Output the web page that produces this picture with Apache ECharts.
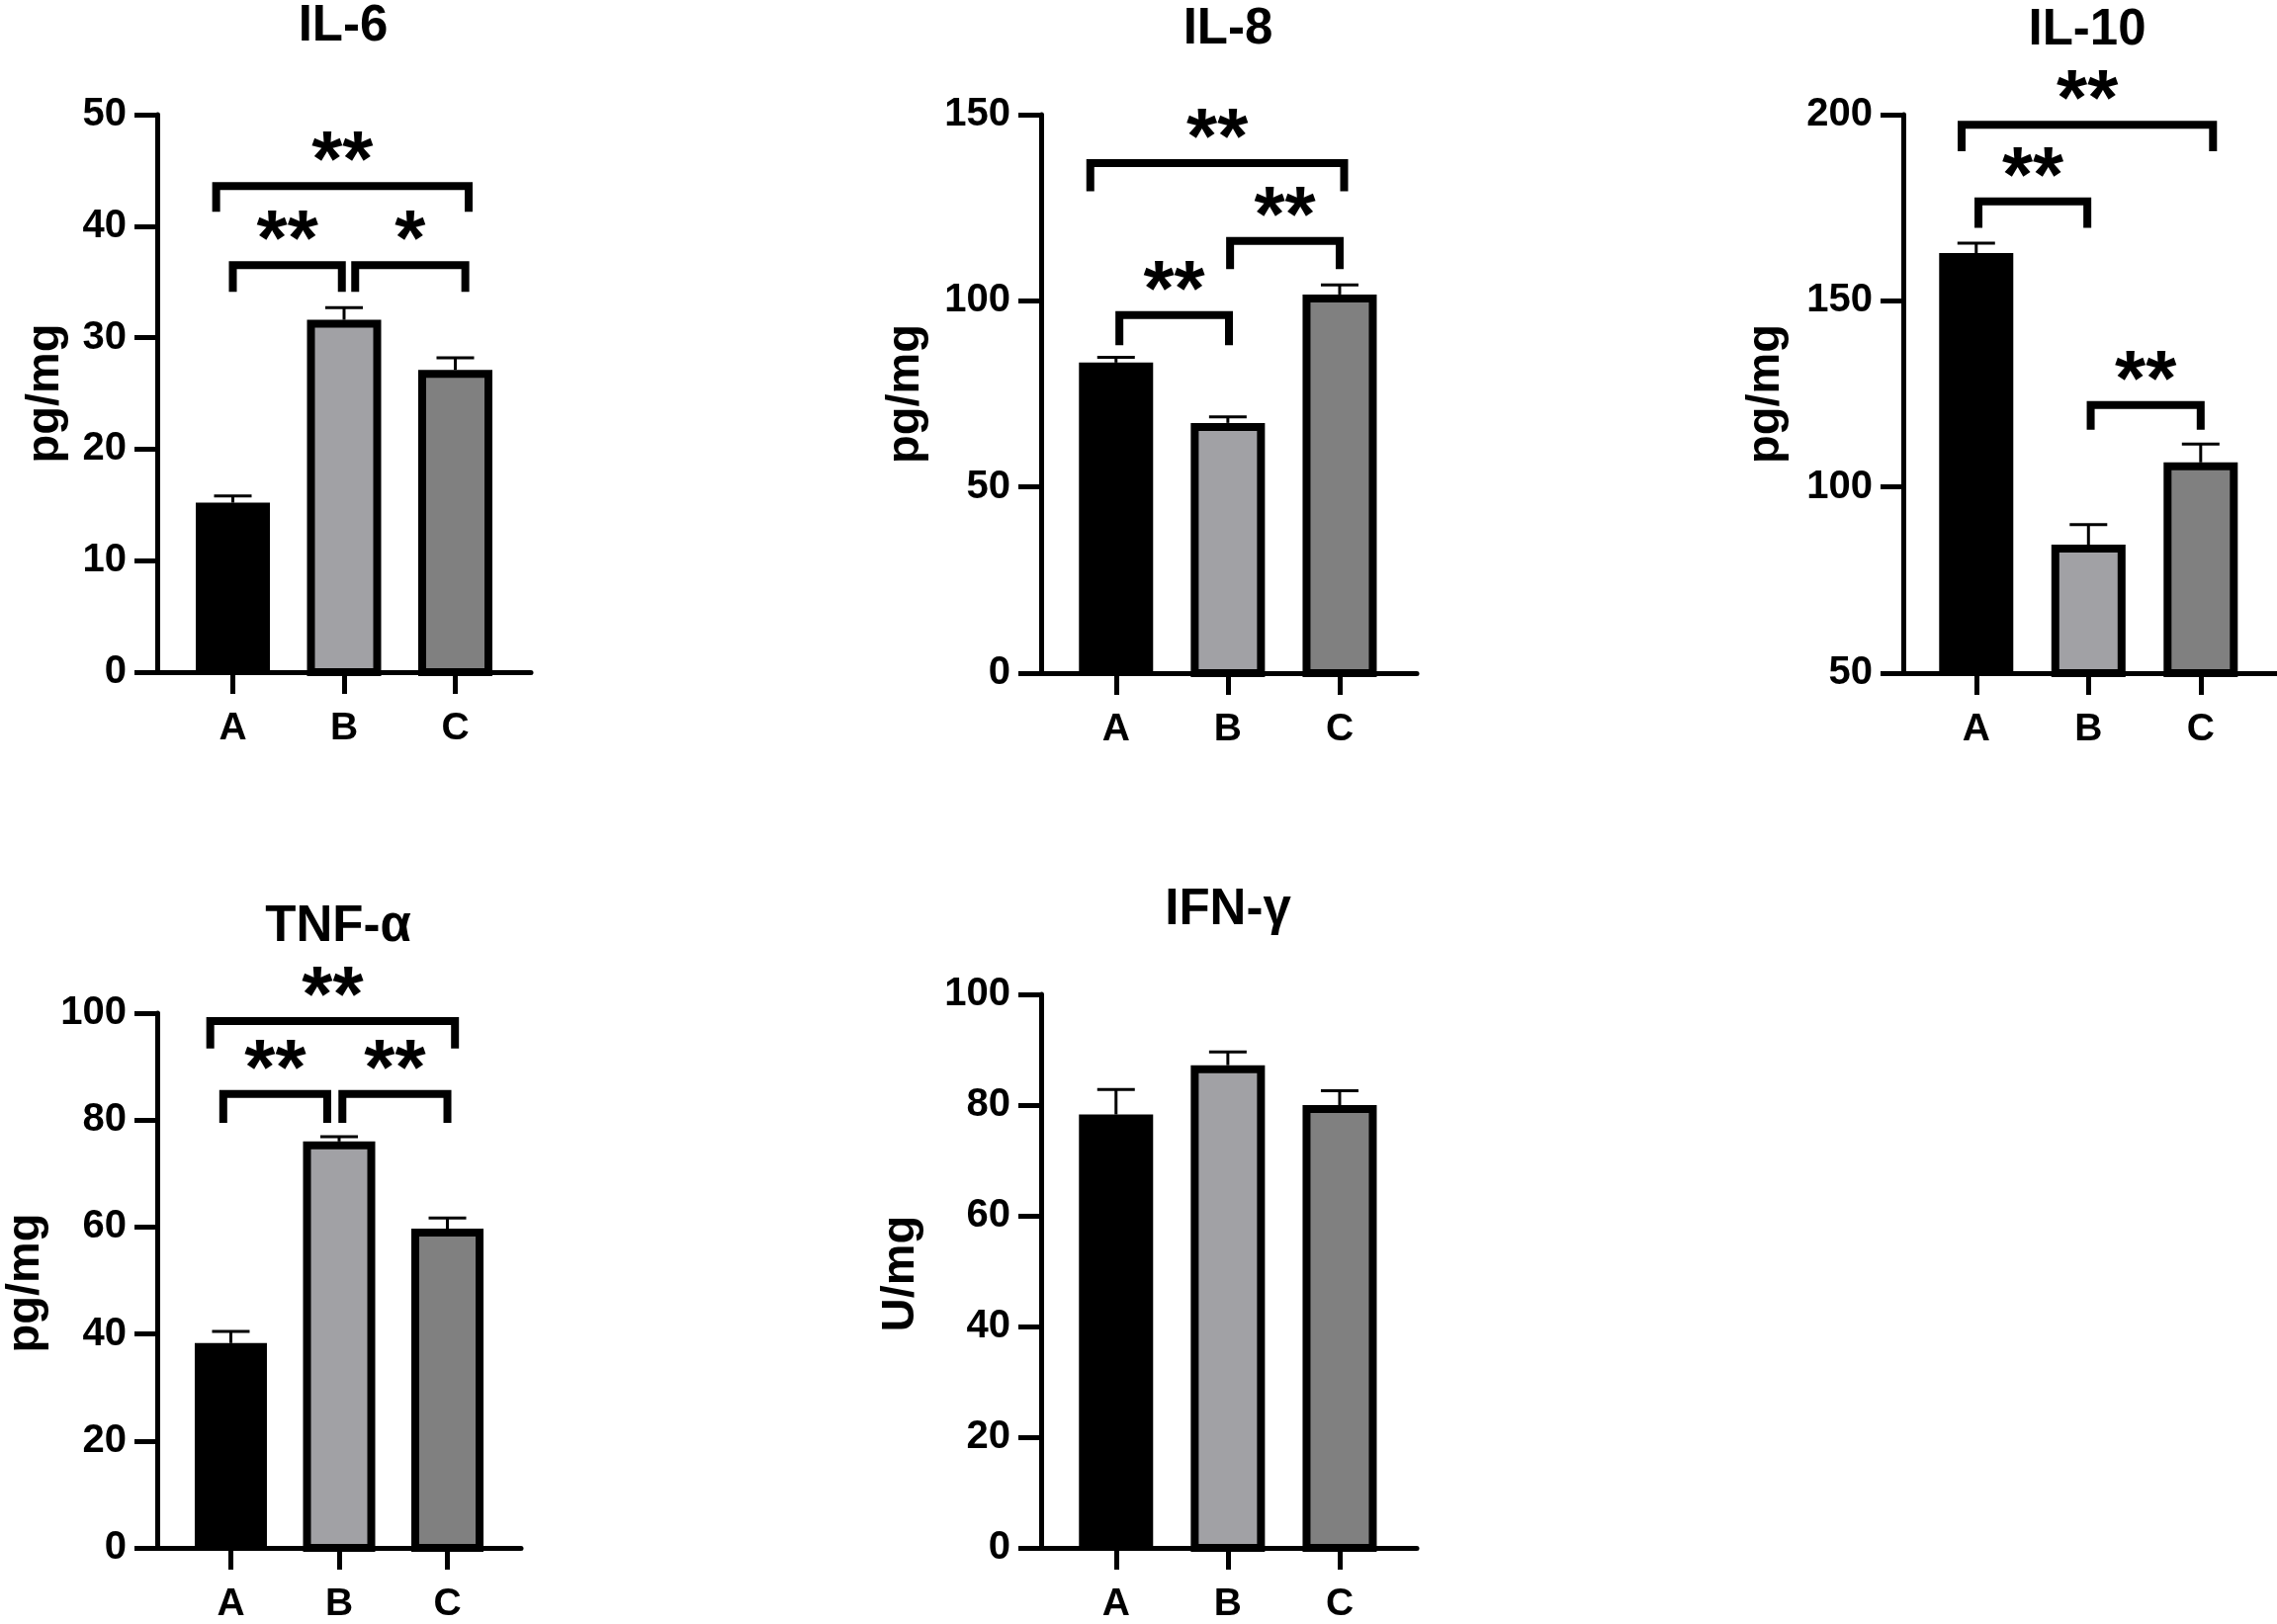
<!DOCTYPE html>
<html>
<head>
<meta charset="utf-8">
<script src="https://cdn.jsdelivr.net/npm/echarts@6/dist/echarts.min.js"></script>
<style>
  html, body { margin: 0; padding: 0; background: #fff; }
  #main { width: 2303px; height: 1643px; }
</style>
</head>
<body>
<div id="main"></div>
<script>
// groups
var categories = ['A', 'B', 'C'];
var barColors = ['#000000', '#a1a1a5', '#808080'];

// mean and SEM for each cytokine
var il6Mean = [15.2, 31.6, 27.1];
var il6Err = [0.6, 1.1, 1.1];
var il8Mean = [83.4, 67.2, 101.7];
var il8Err = [1.4, 1.6, 2.6];
var il10Mean = [162.8, 84.5, 106.6];
var il10Err = [2.7, 5.4, 4.9];
var tnfMean = [38.3, 76.0, 59.7];
var tnfErr = [2.2, 0.9, 2.0];
var ifnMean = [78.3, 87.2, 80.0];
var ifnErr = [4.5, 2.4, 2.6];

// significance brackets: [x from, x to, bracket y, leg end y, label]
var il6Sig = [[0, 0.98, 36.5, 34.1, '**'], [1.10, 2.09, 36.5, 34.1, '*'], [-0.15, 2.12, 43.6, 41.3, '**']];
var il8Sig = [[0.03, 1.01, 96.2, 88.1, '**'], [1.02, 2.0, 116.1, 108.5, '**'], [-0.23, 2.04, 137.0, 129.4, '**']];
var il10Sig = [[0.02, 0.99, 176.7, 169.6, '**'], [1.02, 2.0, 122.0, 115.4, '**'], [-0.13, 2.11, 197.3, 190.2, '**']];
var tnfSig = [[-0.07, 0.89, 84.9, 79.5, '**'], [1.03, 2.0, 84.9, 79.5, '**'], [-0.19, 2.07, 98.5, 93.4, '**']];
var ifnSig = [];

// y axis ranges: [min, max, step]
var il6Axis = [0, 50, 10];
var il8Axis = [0, 150, 50];
var il10Axis = [50, 200, 50];
var tnfAxis = [0, 100, 20];
var ifnAxis = [0, 100, 20];

var FONT = '"Liberation Sans", Arial, Helvetica, sans-serif';

var panels = [
  {title: 'IL-6', unit: 'pg/mg', mean: il6Mean, err: il6Err, sig: il6Sig, axis: il6Axis,
   left: 159, top: 116, width: 378, height: 564, xmin: -0.68, xmax: 2.68, barW: 75, titleX: 347, titleY: 27, nameX: 46},
  {title: 'IL-8', unit: 'pg/mg', mean: il8Mean, err: il8Err, sig: il8Sig, axis: il8Axis,
   left: 1053, top: 116, width: 380, height: 565, xmin: -0.67, xmax: 2.69, barW: 75, titleX: 1242, titleY: 30, nameX: 916},
  {title: 'IL-10', unit: 'pg/mg', mean: il10Mean, err: il10Err, sig: il10Sig, axis: il10Axis,
   left: 1925, top: 116, width: 378, height: 565, xmin: -0.65, xmax: 2.68, barW: 75, titleX: 2111, titleY: 31, nameX: 1786},
  {title: 'TNF-α', unit: 'pg/mg', mean: tnfMean, err: tnfErr, sig: tnfSig, axis: tnfAxis,
   left: 159, top: 1025, width: 368, height: 546, xmin: -0.68, xmax: 2.68, barW: 73, titleX: 342, titleY: 938, nameX: 26},
  {title: 'IFN-γ', unit: 'U/mg', mean: ifnMean, err: ifnErr, sig: ifnSig, axis: ifnAxis,
   left: 1053, top: 1006, width: 380, height: 565, xmin: -0.67, xmax: 2.69, barW: 75, titleX: 1242, titleY: 921, nameX: 911}
];

var grids = [], xAxes = [], yAxes = [], series = [], texts = [];

panels.forEach(function (p, i) {
  grids.push({left: p.left, top: p.top, width: p.width, height: p.height});

  xAxes.push({
    gridIndex: i, type: 'value', min: p.xmin, max: p.xmax,
    splitLine: {show: false},
    axisLine: {show: true, onZero: false, lineStyle: {color: '#000', width: 5}},
    axisTick: {show: true, customValues: [0, 1, 2], length: 22, lineStyle: {color: '#000', width: 5}},
    axisLabel: {
      customValues: [0, 1, 2], margin: 38, color: '#000', fontSize: 39, fontWeight: 'bold', fontFamily: FONT,
      formatter: function (v) { return categories[Math.round(v)]; }
    }
  });

  yAxes.push({
    gridIndex: i, type: 'value', min: p.axis[0], max: p.axis[1], interval: p.axis[2],
    splitLine: {show: false},
    axisLine: {show: true, onZero: false, lineStyle: {color: '#000', width: 5}},
    axisTick: {show: true, length: 23, lineStyle: {color: '#000', width: 5}},
    axisLabel: {margin: 31, color: '#000', fontSize: 40, fontWeight: 'bold', fontFamily: FONT}
  });

  // bars + error bars
  series.push({
    type: 'custom', xAxisIndex: i, yAxisIndex: i, z: 3,
    data: p.mean.map(function (v, k) { return [k, v, p.err[k]]; }),
    renderItem: function (params, api) {
      var k = api.value(0), v = api.value(1), e = api.value(2);
      var top = api.coord([k, v]);
      var base = api.coord([k, p.axis[0]]);
      var cap = api.coord([k, v + e]);
      var w = p.barW, x = top[0] - w / 2;
      var children = [
        {type: 'line', shape: {x1: top[0], y1: top[1], x2: top[0], y2: cap[1]}, style: {stroke: '#000', lineWidth: 3}},
        {type: 'line', shape: {x1: top[0] - 19, y1: cap[1], x2: top[0] + 19, y2: cap[1]}, style: {stroke: '#000', lineWidth: 3}}
      ];
      if (k === 0) {
        children.push({type: 'rect', shape: {x: x, y: top[1], width: w, height: base[1] - top[1]},
          style: {fill: barColors[0]}});
      } else {
        children.push({type: 'rect', shape: {x: x + 4, y: top[1] + 4, width: w - 8, height: base[1] - top[1] - 4},
          style: {fill: barColors[k], stroke: '#000', lineWidth: 8}});
      }
      return {type: 'group', children: children};
    }
  });

  // significance brackets
  if (p.sig.length) {
    series.push({
      type: 'custom', xAxisIndex: i, yAxisIndex: i, z: 4,
      data: p.sig.map(function (s) { return [s[0], s[2], s[1], s[3]]; }),
      renderItem: function (params, api) {
        var s = p.sig[params.dataIndex];
        var a = api.coord([s[0], s[2]]);
        var b = api.coord([s[1], s[2]]);
        var legY = api.coord([s[0], s[3]])[1];
        var mid = (a[0] + b[0]) / 2;
        return {type: 'group', children: [
          {type: 'polyline', shape: {points: [[a[0], legY], [a[0], a[1]], [b[0], b[1]], [b[0], legY]]},
           style: {stroke: '#000', lineWidth: 8, fill: null, lineJoin: 'miter'}},
          {type: 'text', x: mid, y: a[1] - 22,
           style: {text: s[4], fill: '#000', font: 'bold 80px ' + FONT,
                   align: 'center', verticalAlign: 'middle', textAlign: 'center', textVerticalAlign: 'middle'}}
        ]};
      }
    });
  }

  texts.push({type: 'text', x: p.titleX, y: p.titleY,
    style: {text: p.title, fill: '#000', font: 'bold 51px ' + FONT, align: 'center', verticalAlign: 'middle',
            textAlign: 'center', textVerticalAlign: 'middle'}});
  texts.push({type: 'text', x: p.nameX, y: p.top + p.height / 2, rotation: Math.PI / 2,
    style: {text: p.unit, fill: '#000', font: 'bold 47px ' + FONT, align: 'center', verticalAlign: 'middle',
            textAlign: 'center', textVerticalAlign: 'middle'}});
});

var chart = echarts.init(document.getElementById('main'));
chart.setOption({
  backgroundColor: '#fff',
  animation: false,
  grid: grids,
  xAxis: xAxes,
  yAxis: yAxes,
  series: series,
  graphic: {elements: texts}
});
</script>
</body>
</html>
